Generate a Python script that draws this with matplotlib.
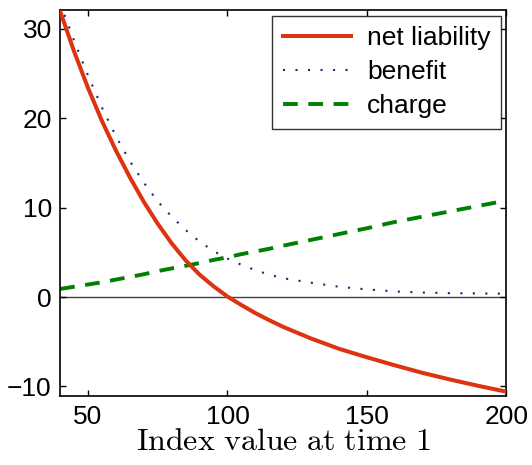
import numpy as np
import matplotlib
matplotlib.use("Agg")
import matplotlib.pyplot as plt

# Index value at time 1
index_value = [40, 45, 50, 55, 60, 65, 70, 75, 80, 85, 90, 95, 100, 105, 110, 115, 120,
               130, 140, 150, 160, 170, 180, 190, 200]

# Values
net_liability = [32.0, 27.5, 23.4, 19.7, 16.4, 13.4, 10.65, 8.2, 6.0, 4.1, 2.5, 1.2, 0.05, -0.9, -1.8, -2.6, -3.35,
                 -4.65, -5.8, -6.75, -7.65, -8.5, -9.25, -9.95, -10.6]
benefit = [32.9, 28.7, 24.8, 21.2, 18.0, 15.2, 12.8, 10.7, 9.0, 7.5, 6.2, 5.15, 4.3, 3.6, 3.0, 2.5, 2.1,
           1.6, 1.15, 0.85, 0.62, 0.5, 0.43, 0.4, 0.37]
charge = [0.9, 1.15, 1.4, 1.65, 1.95, 2.25, 2.55, 2.9, 3.2, 3.5, 3.8, 4.15, 4.45, 4.8, 5.1, 5.4, 5.75,
          6.4, 7.05, 7.7, 8.4, 9.0, 9.6, 10.2, 10.8]

plt.rcParams["font.family"] = ["Liberation Sans", "DejaVu Sans"]
plt.rcParams["mathtext.fontset"] = "cm"

fig = plt.figure(figsize=(5.32, 4.65), dpi=100)
ax = fig.add_axes([0.113, 0.148, 0.839, 0.830])

ax.axhline(0, color="#404040", lw=1.0, zorder=1)
ax.plot(index_value, net_liability, color="#dd3311", lw=2.9, label="net liability", zorder=3)
ax.plot(index_value, benefit, color="#1a2a78", lw=1.5, linestyle=(0, (1, 5)), label="benefit", zorder=2)
ax.plot(index_value, charge, color="#008000", lw=2.8, linestyle=(0, (3.8, 2.7)), label="charge", zorder=2)

ax.set_xlim(40, 200)
ax.set_ylim(-11.1, 32.1)
ax.set_xticks([50, 100, 150, 200])
ax.set_yticks([-10, 0, 10, 20, 30])
ax.tick_params(direction="in", top=True, right=True, labelsize=19, length=4, width=1, pad=6)
for s in ax.spines.values():
    s.set_linewidth(1.2)

ax.set_xlabel(r"$\mathrm{Index\ value\ at\ time\ 1}$", fontsize=23, labelpad=-1)

leg = ax.legend(loc="upper right", fontsize=19, handlelength=2.6, frameon=True,
                fancybox=False, edgecolor="black", borderaxespad=0.2,
                labelspacing=0.38, handletextpad=0.6, borderpad=0.4)
leg.get_frame().set_linewidth(1.0)

fig.savefig("out.png", dpi=100)
